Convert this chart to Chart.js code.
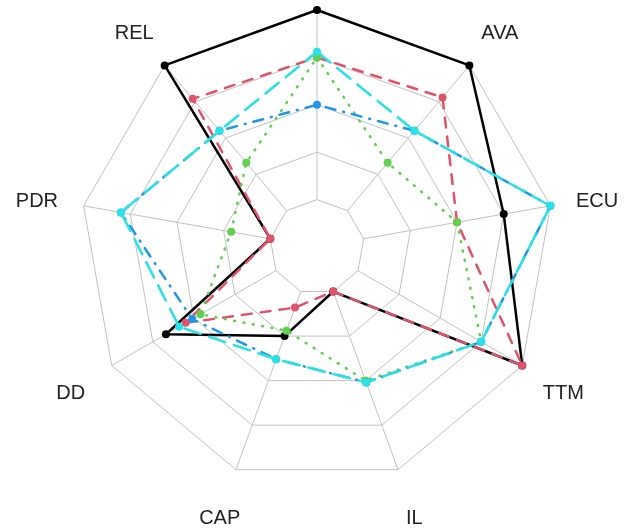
<!DOCTYPE html>
<html>
<head>
<meta charset="utf-8">
<script src="https://cdn.jsdelivr.net/npm/chart.js@4/dist/chart.umd.min.js"></script>
<style>
    html, body { margin: 0; padding: 0; background: #fff; }
    #radar { display: block; }
</style>
</head>
<body>
<canvas id="radar" width="632" height="530"></canvas>
<script>
// Axis names (clockwise from top; top label sits off the picture)
const categories = ['', 'AVA', 'ECU', 'TTM', 'IL', 'CAP', 'DD', 'PDR', 'REL'];

// Series values, 0 = inner ring, 100 = outer ring
const seriesBlack = [100, 100, 75, 100, 0, 25, 67, 0, 100];
const seriesRed   = [75, 78, 50, 100, 0, 9, 55, 0, 77];
const seriesGreen = [75, 33, 50, 75, 50, 22, 46, 21, 33];
const seriesBlue  = [50, 55, 100, 75, 51, 38, 51, 80, 55];
const seriesCyan  = [78, 55, 100, 75, 51, 38, 59, 80, 55];

// Ring values (min sits one step inside the first ring, like fmsb)
const ringMin = -25;
const ringMax = 100;
const ringStep = 25;

document.addEventListener("DOMContentLoaded", function() {
    const gridColor = '#c2c2c2';

    function makeSet(name, data, color, dash, order) {
        return {
            label: name,
            data: data,
            borderColor: color,
            backgroundColor: color,
            borderWidth: 2.5,
            borderDash: dash,
            borderCapStyle: 'round',
            borderJoinStyle: 'round',
            fill: false,
            tension: 0,
            pointRadius: 4,
            pointHoverRadius: 4,
            pointBackgroundColor: color,
            pointBorderColor: color,
            pointBorderWidth: 0,
            order: order
        };
    }

    // spokes start at the inner ring, labels centred at 1.2 x radius
    const spokesAndLabels = {
        id: 'spokesAndLabels',
        beforeDatasetsDraw(chart) {
            const scale = chart.scales.r;
            const ctx = chart.ctx;
            const inner = scale.getDistanceFromCenterForValue(0);
            const outer = scale.getDistanceFromCenterForValue(ringMax);
            ctx.save();
            ctx.strokeStyle = gridColor;
            ctx.lineWidth = 1;
            for (let i = 0; i < categories.length; i++) {
                const a = scale.getPointPosition(i, inner);
                const b = scale.getPointPosition(i, outer);
                ctx.beginPath();
                ctx.moveTo(a.x, a.y);
                ctx.lineTo(b.x, b.y);
                ctx.stroke();
            }
            ctx.restore();
        },
        afterDraw(chart) {
            const scale = chart.scales.r;
            const ctx = chart.ctx;
            ctx.save();
            ctx.fillStyle = '#222';
            ctx.font = '20px "Liberation Sans", Arial, sans-serif';
            ctx.textAlign = 'center';
            ctx.textBaseline = 'middle';
            for (let i = 0; i < categories.length; i++) {
                const p = scale.getPointPosition(i, scale.drawingArea * 1.2);
                ctx.fillText(categories[i], p.x, p.y + 4);
            }
            ctx.restore();
        }
    };

    new Chart(document.getElementById('radar'), {
        type: 'radar',
        data: {
            labels: categories,
            datasets: [
                makeSet('Series 1', seriesBlack, '#000000', [], 5),
                makeSet('Series 2', seriesRed, '#DF536B', [10, 9], 4),
                makeSet('Series 3', seriesGreen, '#61D04F', [1, 8.5], 3),
                makeSet('Series 4', seriesBlue, '#2297E6', [1, 8, 10, 8], 2),
                makeSet('Series 5', seriesCyan, '#28E2E5', [17, 9], 1)
            ]
        },
        options: {
            responsive: false,
            animation: false,
            layout: { padding: { left: 80, right: 78, top: 10, bottom: 46 } },
            plugins: {
                legend: { display: false },
                tooltip: { enabled: false }
            },
            scales: {
                r: {
                    min: ringMin,
                    max: ringMax,
                    ticks: { display: false, stepSize: ringStep },
                    grid: { color: gridColor, lineWidth: 1 },
                    angleLines: { display: false },
                    pointLabels: { display: false }
                }
            }
        },
        plugins: [spokesAndLabels]
    });
});
</script>
</body>
</html>
